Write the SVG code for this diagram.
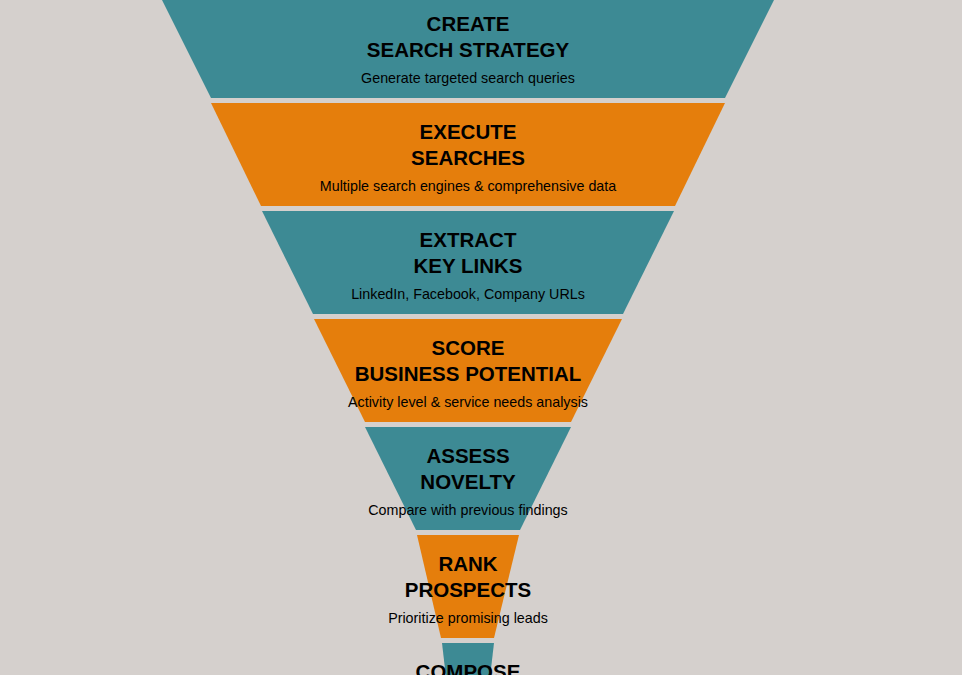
<svg xmlns="http://www.w3.org/2000/svg" width="962" height="675" viewBox="0 0 962 675">
<style>
.teal{fill:#3d8a94}
.orange{fill:#e57e0c}
.t{font-family:"Liberation Sans",Arial,sans-serif;font-weight:bold;font-size:20.5px;fill:#000;text-anchor:middle}
.s{font-family:"Liberation Sans",Arial,sans-serif;font-size:14.3px;fill:#000;text-anchor:middle}
</style>
<rect width="962" height="675" fill="#d5d0cd"/>
<g id="step1">
<polygon class="teal" points="162,0 774,0 725,98 211,98"/>
<text class="t" x="468" y="31">CREATE</text>
<text class="t" x="468" y="57">SEARCH STRATEGY</text>
<text class="s" x="468" y="83">Generate targeted search queries</text>
</g>
<g id="step2">
<polygon class="orange" points="211,103 725,103 675,206 261,206"/>
<text class="t" x="468" y="139">EXECUTE</text>
<text class="t" x="468" y="165">SEARCHES</text>
<text class="s" x="468" y="191">Multiple search engines &amp; comprehensive data</text>
</g>
<g id="step3">
<polygon class="teal" points="262,211 674,211 623,314 313,314"/>
<text class="t" x="468" y="247">EXTRACT</text>
<text class="t" x="468" y="273">KEY LINKS</text>
<text class="s" x="468" y="299">LinkedIn, Facebook, Company URLs</text>
</g>
<g id="step4">
<polygon class="orange" points="314,319 622,319 571,422 365,422"/>
<text class="t" x="468" y="355">SCORE</text>
<text class="t" x="468" y="381">BUSINESS POTENTIAL</text>
<text class="s" x="468" y="407">Activity level &amp; service needs analysis</text>
</g>
<g id="step5">
<polygon class="teal" points="365,427 571,427 520,530 416,530"/>
<text class="t" x="468" y="463">ASSESS</text>
<text class="t" x="468" y="489">NOVELTY</text>
<text class="s" x="468" y="515">Compare with previous findings</text>
</g>
<g id="step6">
<polygon class="orange" points="417,535 519,535 494,638 441,638"/>
<text class="t" x="468" y="571">RANK</text>
<text class="t" x="468" y="597">PROSPECTS</text>
<text class="s" x="468" y="623">Prioritize promising leads</text>
</g>
<g id="step7">
<polygon class="teal" points="442,643 494,643 482,746 454,746"/>
<text class="t" x="468" y="679">COMPOSE</text>
</g>
<g id="connectors"></g>
</svg>
